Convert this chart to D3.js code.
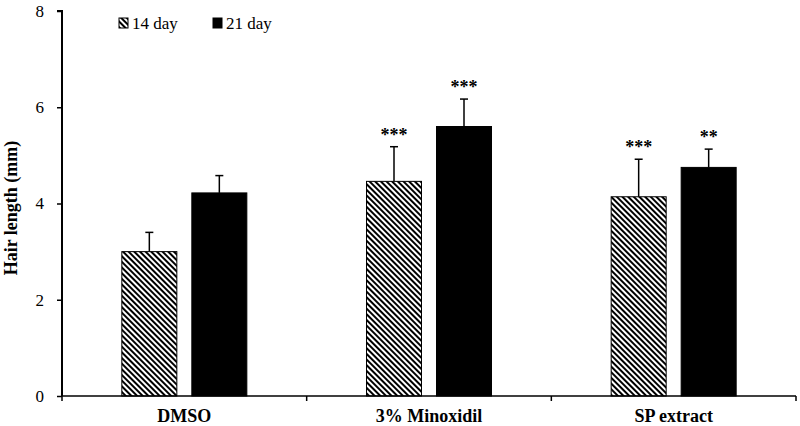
<!DOCTYPE html>
<html><head><meta charset="utf-8">
<script src="https://cdn.jsdelivr.net/npm/d3@7"></script>
<style>body{margin:0;background:#fff}svg{display:block}</style>
</head><body>
<svg id="c" width="800" height="426"></svg>
<script>
const categories = ["DMSO", "3% Minoxidil", "SP extract"];
const seriesNames = ["14 day", "21 day"];
const day14 = [3.0, 4.46, 4.14];
const day21 = [4.22, 5.60, 4.75];
const err14 = [0.40, 0.72, 0.78];
const err21 = [0.36, 0.57, 0.38];
const sig14 = ["", "***", "***"];
const sig21 = ["", "***", "**"];
const yTicks = [0, 2, 4, 6, 8];

const svg = d3.select("#c");
const m = {l: 62, r: 4, t: 11, b: 30};
const W = 800, H = 426;
const x = d3.scaleBand().domain(categories).range([m.l, W - m.r]);
const y = d3.scaleLinear().domain([0, 8]).range([H - m.b, m.t]);

const defs = svg.append("defs");
const pat = defs.append("pattern").attr("id", "hatch").attr("patternUnits", "userSpaceOnUse")
  .attr("width", 4).attr("height", 4).attr("patternTransform", "rotate(-45)");
pat.append("rect").attr("width", 4).attr("height", 4).attr("fill", "#fff");
pat.append("rect").attr("x", 0).attr("width", 2).attr("height", 4).attr("fill", "#000");

const font = "'Liberation Serif','Times New Roman',serif";
const barW = 55, gap = 15;
const data = [];
categories.forEach((c, i) => {
  data.push({c, s: 0, v: day14[i], e: err14[i], sig: sig14[i]});
  data.push({c, s: 1, v: day21[i], e: err21[i], sig: sig21[i]});
});
const bx = d => x(d.c) + x.bandwidth() / 2 + (d.s === 0 ? -(barW + gap / 2) : gap / 2);

// error bars
const eg = svg.append("g");
data.forEach(d => {
  const cx = bx(d) + barW / 2;
  eg.append("line").attr("x1", cx).attr("x2", cx).attr("y1", y(d.v)).attr("y2", y(d.v + d.e))
    .attr("stroke", "#000").attr("stroke-width", 1.5);
  eg.append("line").attr("x1", cx - 4).attr("x2", cx + 4).attr("y1", y(d.v + d.e)).attr("y2", y(d.v + d.e))
    .attr("stroke", "#000").attr("stroke-width", 1.5);
  if (d.sig) eg.append("text").attr("x", cx).attr("y", y(d.v + d.e) - 6)
    .attr("text-anchor", "middle").attr("font-family", font).attr("font-size", 18).attr("font-weight", "bold").text(d.sig);
});

svg.append("g").selectAll("rect").data(data).join("rect")
  .attr("x", bx).attr("width", barW)
  .attr("y", d => y(d.v)).attr("height", d => y(0) - y(d.v))
  .attr("fill", d => d.s === 0 ? "url(#hatch)" : "#000")
  .attr("stroke", "#000").attr("stroke-width", 1);

// y axis
const ya = svg.append("g").attr("transform", `translate(${m.l},0)`)
  .call(d3.axisLeft(y).tickValues(yTicks).tickSize(5).tickPadding(13));
ya.select(".domain").attr("stroke-width", 2).attr("d", `M-5,${y(8)}H0V${y(0)}`);
ya.selectAll("line").attr("stroke-width", 1.5);
ya.selectAll("text").attr("font-family", font).attr("font-size", 17).attr("fill", "#000");

// x axis
const xa = svg.append("g").attr("transform", `translate(0,${y(0)})`);
xa.append("line").attr("x1", m.l).attr("x2", W - m.r).attr("stroke", "#000").attr("stroke-width", 1.5);
const bounds = [m.l, ...categories.map(c => x(c) + x.bandwidth())];
bounds.forEach(b => xa.append("line").attr("x1", b).attr("x2", b).attr("y1", 0).attr("y2", 5).attr("stroke", "#000").attr("stroke-width", 1.5));
categories.forEach(c => xa.append("text").attr("x", x(c) + x.bandwidth() / 2).attr("y", 26)
  .attr("text-anchor", "middle").attr("font-family", font).attr("font-size", 18).attr("font-weight", "bold").text(c));

svg.append("text").attr("transform", `translate(17,208) rotate(-90)`)
  .attr("text-anchor", "middle").attr("font-family", font).attr("font-size", 18).attr("font-weight", "bold").text("Hair length (mm)");

// legend
const lg = svg.append("g");
const lx = [119, 213];
seriesNames.forEach((s, i) => {
  lg.append("rect").attr("x", lx[i]).attr("y", 18).attr("width", 9).attr("height", 10)
    .attr("fill", i === 0 ? "url(#hatch)" : "#000").attr("stroke", "#000").attr("stroke-width", 1);
  lg.append("text").attr("x", lx[i] + 13).attr("y", 29).attr("font-family", font).attr("font-size", 17).text(s);
});
</script>
</body></html>
